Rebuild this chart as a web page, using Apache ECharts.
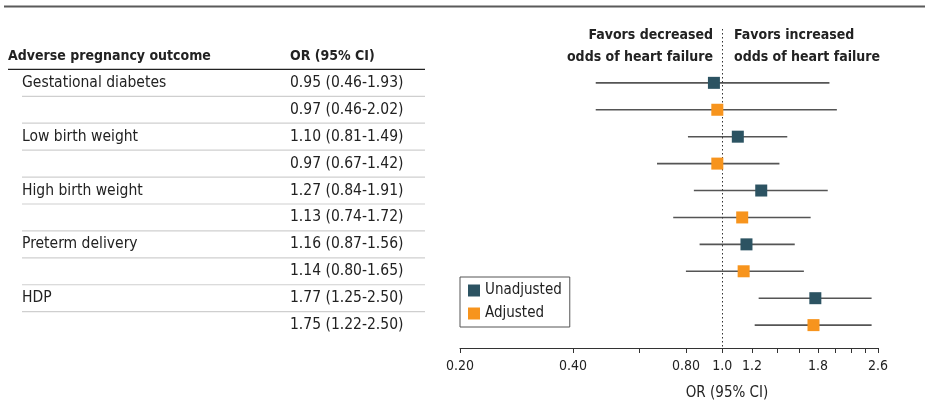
<!DOCTYPE html>
<html>
<head>
<meta charset="UTF-8">
<title>Adverse pregnancy outcome and heart failure</title>
<script src="https://cdn.jsdelivr.net/npm/echarts@6/dist/echarts.min.js"></script>
<style>
  html, body { margin: 0; padding: 0; background: #fff; }
  #chart { width: 925px; height: 402px; }
</style>
</head>
<body>
<div id="chart"></div>
<script>
// data
var outcomes = ['Gestational diabetes', 'Low birth weight', 'High birth weight', 'Preterm delivery', 'HDP'];
var unadjOR = [0.95, 1.10, 1.27, 1.16, 1.77];
var unadjLo = [0.46, 0.81, 0.84, 0.87, 1.25];
var unadjHi = [1.93, 1.49, 1.91, 1.56, 2.50];
var adjOR = [0.97, 0.97, 1.13, 1.14, 1.75];
var adjLo = [0.46, 0.67, 0.74, 0.80, 1.22];
var adjHi = [2.02, 1.42, 1.72, 1.65, 2.50];
var tickValues = [0.2, 0.4, 0.6, 0.8, 1.0, 1.2, 1.4, 1.6, 1.8, 2.0, 2.2, 2.4, 2.6];
var labelValues = [0.2, 0.4, 0.8, 1.0, 1.2, 1.8, 2.6];
var labelTexts = ['0.20', '0.40', '0.80', '1.0', '1.2', '1.8', '2.6'];

var FONT = '"DejaVu Sans Condensed", "Liberation Sans Narrow", "Liberation Sans", sans-serif';
var TEAL = '#2c5362';
var ORANGE = '#f7941d';

// rows: unadjusted then adjusted for each outcome
var tableRows = [];
var unadjPts = [], adjPts = [], unadjBars = [], adjBars = [];
outcomes.forEach(function (name, k) {
  var r0 = k * 2, r1 = k * 2 + 1;
  tableRows.push({ label: name, ci: unadjOR[k].toFixed(2) + ' (' + unadjLo[k].toFixed(2) + '-' + unadjHi[k].toFixed(2) + ')', row: r0 });
  tableRows.push({ label: '', ci: adjOR[k].toFixed(2) + ' (' + adjLo[k].toFixed(2) + '-' + adjHi[k].toFixed(2) + ')', row: r1 });
  unadjPts.push([unadjOR[k], r0]);
  adjPts.push([adjOR[k], r1]);
  unadjBars.push([unadjLo[k], unadjHi[k], r0]);
  adjBars.push([adjLo[k], adjHi[k], r1]);
});

function renderWhisker(params, api) {
  var a = api.coord([api.value(0), api.value(2)]);
  var b = api.coord([api.value(1), api.value(2)]);
  return {
    type: 'line',
    shape: { x1: a[0], y1: a[1], x2: b[0], y2: b[1] },
    style: { stroke: '#555', lineWidth: 1.6 }
  };
}

function renderTableRow(params, api) {
  var cs = params.coordSys;
  var row = tableRows[params.dataIndex];
  var p = api.coord([0, api.value(1)]);
  var h = api.size([0, 1])[1];
  var kids = [
    { type: 'text', style: { x: cs.x + 22, y: p[1], text: row.label, fill: '#222', font: '15.5px ' + FONT, textVerticalAlign: 'middle' } },
    { type: 'text', style: { x: cs.x + 290, y: p[1], text: row.ci, fill: '#222', font: '15.5px ' + FONT, textVerticalAlign: 'middle' } }
  ];
  if (params.dataIndex === 0) {
    kids.push({ type: 'line', shape: { x1: cs.x + 8, y1: p[1] - h / 2, x2: cs.x + 425, y2: p[1] - h / 2 }, style: { stroke: '#222', lineWidth: 1.2 } });
    kids.push({ type: 'text', style: { x: cs.x + 8, y: p[1] - h, text: 'Adverse pregnancy outcome', fill: '#222', font: 'bold 14px ' + FONT, textVerticalAlign: 'middle' } });
    kids.push({ type: 'text', style: { x: cs.x + 290, y: p[1] - h, text: 'OR (95% CI)', fill: '#222', font: 'bold 14px ' + FONT, textVerticalAlign: 'middle' } });
  } else {
    kids.push({ type: 'line', shape: { x1: cs.x + 22, y1: p[1] - h / 2, x2: cs.x + 425, y2: p[1] - h / 2 }, style: { stroke: '#cfcfcf', lineWidth: 1.2 } });
  }
  return { type: 'group', children: kids };
}

var chart = echarts.init(document.getElementById('chart'));
chart.setOption({
  animation: false,
  textStyle: { fontFamily: FONT },
  graphic: [
    { type: 'line', shape: { x1: 4, y1: 6.5, x2: 925, y2: 6.5 }, style: { stroke: '#5a5a5a', lineWidth: 2 } },
    { type: 'text', x: 713, y: 24, style: { text: 'Favors decreased\nodds of heart failure', align: 'right', fill: '#222', font: 'bold 14px ' + FONT, lineHeight: 22 } },
    { type: 'text', x: 734, y: 24, style: { text: 'Favors increased\nodds of heart failure', align: 'left', fill: '#222', font: 'bold 14px ' + FONT, lineHeight: 22 } }
  ],
  legend: {
    left: 460, top: 277,
    orient: 'vertical',
    data: ['Unadjusted', 'Adjusted'],
    icon: 'rect',
    itemWidth: 12, itemHeight: 12, itemGap: 8,
    borderColor: '#555', borderWidth: 1, padding: [6, 8, 6, 8],
    textStyle: { fontSize: 15, color: '#222', fontFamily: FONT }
  },
  grid: [
    { left: 460, right: 47, top: 29, bottom: 54, outerBoundsMode: 'none', containLabel: false },
    { left: 0, width: 440, top: 29, bottom: 54, outerBoundsMode: 'none', containLabel: false }
  ],
  xAxis: [
    {
      type: 'log', logBase: 10, min: 0.2, max: 2.6, gridIndex: 0,
      name: 'OR (95% CI)', nameLocation: 'middle', nameGap: 38,
      nameTextStyle: { fontSize: 15, color: '#222', padding: [0, 0, 0, 116] },
      axisLine: { onZero: false, lineStyle: { color: '#333', width: 1 } },
      axisTick: { length: 5, customValues: tickValues, lineStyle: { color: '#333' } },
      axisLabel: {
        customValues: labelValues, margin: 11, fontSize: 14, color: '#222',
        formatter: function (v) {
          for (var i = 0; i < labelValues.length; i++) {
            if (Math.abs(labelValues[i] - v) < 1e-6) return labelTexts[i];
          }
          return '';
        }
      },
      splitLine: { show: false }, minorTick: { show: false }
    },
    { type: 'value', gridIndex: 1, min: 0, max: 1, show: false }
  ],
  yAxis: [
    { type: 'value', gridIndex: 0, inverse: true, min: -2, max: 9.85, show: false },
    { type: 'value', gridIndex: 1, inverse: true, min: -2, max: 9.85, show: false }
  ],
  series: [
    {
      type: 'custom', name: 'table', xAxisIndex: 1, yAxisIndex: 1, silent: true,
      renderItem: renderTableRow,
      data: tableRows.map(function (r) { return [0, r.row]; })
    },
    {
      type: 'custom', name: 'ciU', renderItem: renderWhisker, silent: true, z: 2,
      encode: { x: [0, 1], y: 2 }, data: unadjBars
    },
    {
      type: 'custom', name: 'ciA', renderItem: renderWhisker, silent: true, z: 2,
      encode: { x: [0, 1], y: 2 }, data: adjBars
    },
    {
      type: 'scatter', name: 'Unadjusted', symbol: 'rect', symbolSize: 12, z: 5,
      itemStyle: { color: TEAL, opacity: 1 }, data: unadjPts,
      markLine: {
        silent: true, symbol: 'none', label: { show: false },
        lineStyle: { color: '#333', type: [1.5, 2.5], width: 1 },
        data: [{ xAxis: 1 }]
      }
    },
    {
      type: 'scatter', name: 'Adjusted', symbol: 'rect', symbolSize: 12, z: 5,
      itemStyle: { color: ORANGE, opacity: 1 }, data: adjPts
    }
  ]
});
</script>
</body>
</html>
